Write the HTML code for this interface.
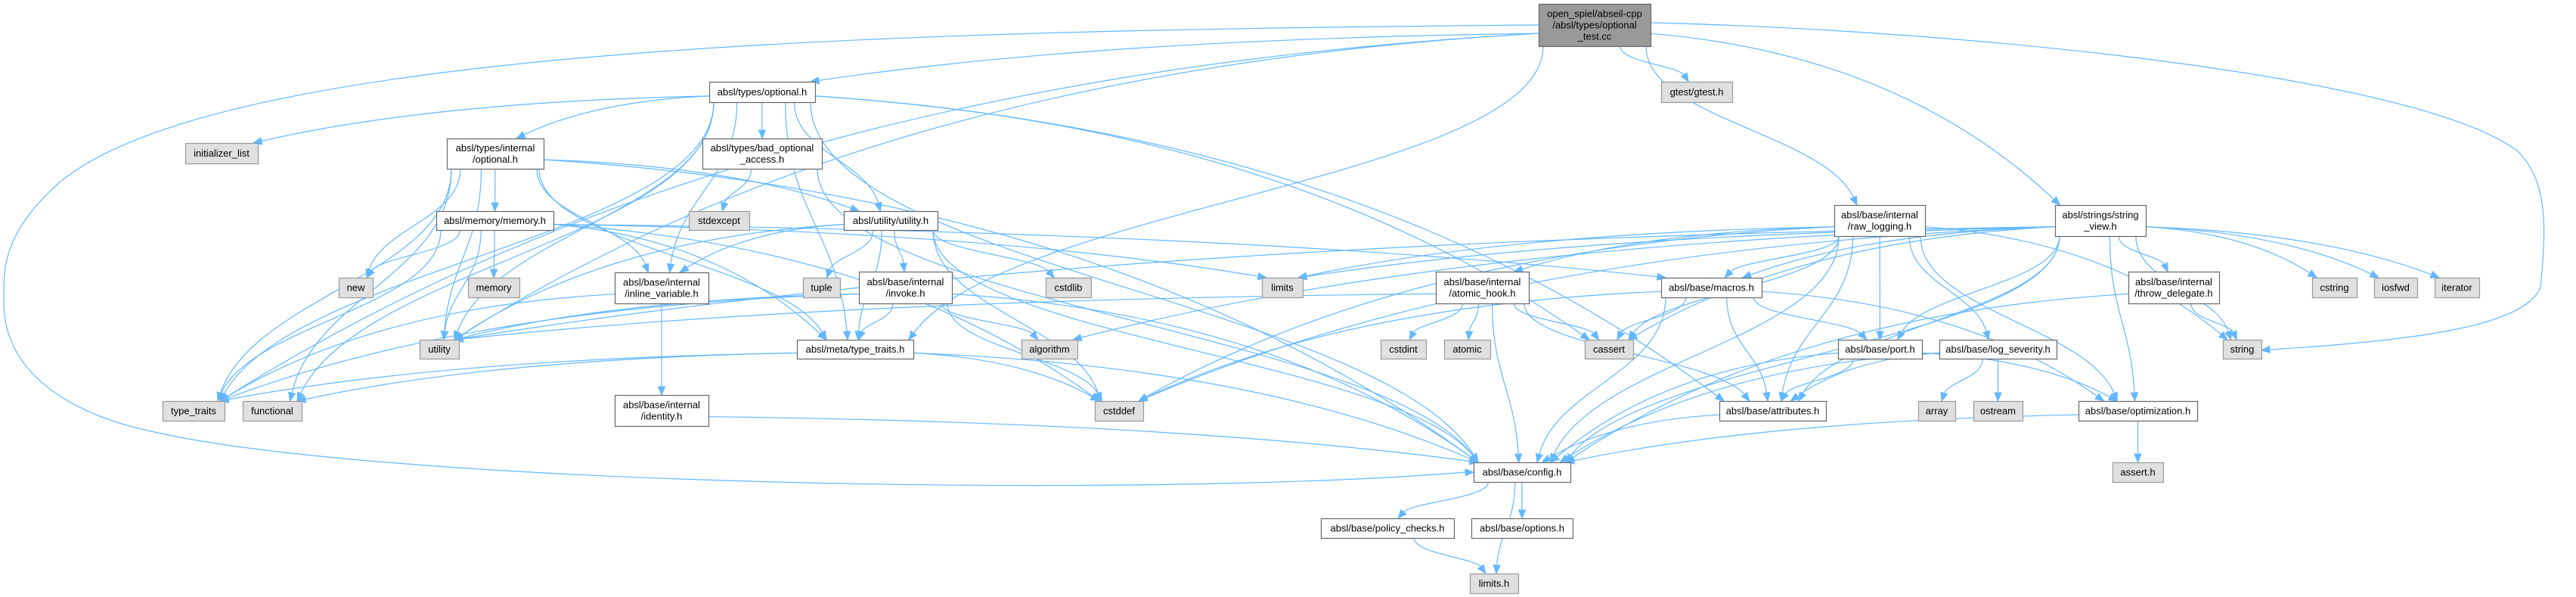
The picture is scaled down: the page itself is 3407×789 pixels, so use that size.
<!DOCTYPE html>
<html><head><meta charset="utf-8"><style>
html,body{margin:0;padding:0;background:#fff;}
svg{display:block;}
text{font-family:"Liberation Sans",Arial,sans-serif;font-size:13px;fill:#000;}
</style></head><body>
<svg id="g" xmlns="http://www.w3.org/2000/svg" width="3407" height="789" viewBox="0 0 3407 789">
<g id="edges" fill="none" stroke="#63b8ff" stroke-width="1.2"></g>
<g id="arrows" fill="#63b8ff" stroke="#63b8ff"></g>
<g id="nodes"></g>
</svg>
<script>
var N={
root:[2035,5,2183,61,"open_spiel/abseil-cpp|/absl/types/optional|_test.cc",2],
opt:[938,108,1078,135,"absl/types/optional.h",0],
gtest:[2197,108,2291,135,"gtest/gtest.h",1],
il:[245,189,341,216,"initializer_list",1],
iopt:[591,183,719,223,"absl/types/internal|/optional.h",0],
bad:[929,183,1087,223,"absl/types/bad_optional|_access.h",0],
uth:[1116,279,1240,304,"absl/utility/utility.h",0],
mem:[577,279,732,304,"absl/memory/memory.h",0],
stdexc:[911,279,991,304,"stdexcept",1],
raw:[2426,271,2546,312,"absl/base/internal|/raw_logging.h",0],
sv:[2718,271,2838,312,"absl/strings/string|_view.h",0],
nw:[448,367,493,393,"new",1],
memory:[619,367,687,393,"memory",1],
iv:[813,360,937,401,"absl/base/internal|/inline_variable.h",0],
tuple:[1062,367,1111,393,"tuple",1],
inv:[1136,359,1259,401,"absl/base/internal|/invoke.h",0],
cstdlib:[1383,367,1443,393,"cstdlib",1],
limits:[1669,367,1723,393,"limits",1],
ah:[1899,359,2022,401,"absl/base/internal|/atomic_hook.h",0],
mac:[2197,367,2330,393,"absl/base/macros.h",0],
td:[2815,359,2935,401,"absl/base/internal|/throw_delegate.h",0],
cstring:[3058,367,3117,393,"cstring",1],
iosfwd:[3140,367,3197,393,"iosfwd",1],
iterator:[3220,367,3279,393,"iterator",1],
util:[555,449,607,474,"utility",1],
mtt:[1054,449,1208,474,"absl/meta/type_traits.h",0],
algo:[1351,449,1425,474,"algorithm",1],
cstdint:[1826,449,1886,474,"cstdint",1],
atomic:[1910,449,1971,474,"atomic",1],
cassert:[2096,449,2160,474,"cassert",1],
port:[2431,449,2542,474,"absl/base/port.h",0],
ls:[2565,449,2720,474,"absl/base/log_severity.h",0],
str:[2940,449,2991,474,"string",1],
tt:[215,530,297,556,"type_traits",1],
func:[321,530,399,556,"functional",1],
ident:[813,522,937,563,"absl/base/internal|/identity.h",0],
cstddef:[1448,530,1512,556,"cstddef",1],
attr:[2274,530,2415,556,"absl/base/attributes.h",0],
array:[2537,530,2586,556,"array",1],
ostream:[2610,530,2675,556,"ostream",1],
optm:[2749,530,2906,556,"absl/base/optimization.h",0],
cfg:[1949,611,2077,637,"absl/base/config.h",0],
asserth:[2794,611,2861,637,"assert.h",1],
pol:[1747,685,1923,711,"absl/base/policy_checks.h",0],
opts:[1946,685,2080,711,"absl/base/options.h",0],
limh:[1944,758,2008,784,"limits.h",1]
};
var E={
root:["opt","gtest","raw","sv","tt","util","mtt"],
opt:["il","iopt","bad","uth","tt","util","func","iv","mtt","cfg","attr","cassert"],
iopt:["mem","nw","util","tt","func","iv","mtt","uth","cfg"],
mem:["nw","memory","util","tt","mtt","cstddef","limits","mac"],
bad:["stdexc","cfg"],
uth:["iv","tuple","inv","cstdlib","util","mtt","cfg","cstddef"],
iv:["ident","tt"],
ident:["cfg"],
inv:["algo","util","tt","mtt","cfg","cstddef"],
mtt:["tt","func","cstddef","cfg"],
raw:["ah","mac","port","ls","attr","cfg","optm","cassert","str","cstddef","limits"],
ah:["cstdint","atomic","cassert","attr","cfg","util"],
mac:["cassert","cstddef","attr","cfg","optm","port"],
port:["attr","cfg","optm"],
ls:["attr","array","ostream","cfg"],
optm:["asserth","cfg"],
attr:["cfg"],
sv:["td","cstring","iosfwd","iterator","str","limits","algo","cstddef","cassert","mac","port","attr","optm","cfg","util"],
td:["str","cfg"],
cfg:["pol","opts","limh"],
pol:["limh"]
};
var NS="http://www.w3.org/2000/svg";
function el(t,a,p){var e=document.createElementNS(NS,t);for(var k in a)e.setAttribute(k,a[k]);p.appendChild(e);return e;}
var ge=document.getElementById("edges"),ga=document.getElementById("arrows"),gn=document.getElementById("nodes");
function cl(v,a,b){return Math.max(a,Math.min(b,v));}
function arrow(x,y,ux,uy){var L=11,W=4.5;var bx=x-ux*L,by=y-uy*L;
 el("polygon",{points:x+","+y+" "+(bx-uy*W)+","+(by+ux*W)+" "+(bx+uy*W)+","+(by-ux*W)},ga);}
function edge(a,b){var s=N[a],t=N[b];var scx=(s[0]+s[2])/2,tcx=(t[0]+t[2])/2;
 var sx,sy,tx,ty,c1x,c1y,c2x,c2y,ux,uy;
 var hd=Math.abs(tcx-scx),vd=t[1]-s[3];
 if(vd>5){
  tx=cl(tcx+(scx-tcx)*0.08,t[0]+6,t[2]-6);ty=t[1];
  if(hd>2.5*vd+100){sx=tcx<scx?s[0]:s[2];sy=(s[1]+s[3])/2+ (s[3]-s[1])*0.2;
   c1x=sx+(tx-sx)*0.5;c1y=sy+(ty-sy)*0.1;c2x=tx+(sx-tx)*0.2;c2y=ty-(ty-sy)*0.45;}
  else{sx=cl(scx+(tcx-scx)*0.25,s[0]+6,s[2]-6);sy=s[3];
   var dy=(ty-sy)*0.45;c1x=sx;c1y=sy+dy;c2x=tx+(sx-tx)*0.15;c2y=ty-dy;}}
 else{
  sy=(s[1]+s[3])/2;sx=tcx<scx?s[0]:s[2];tx=tcx<scx?t[2]:t[0];ty=(t[1]+t[3])/2;
  c1x=sx+(tx-sx)*0.4;c1y=sy;c2x=tx-(tx-sx)*0.3;c2y=ty;}
 var dx=tx-c2x,dd=ty-c2y,l=Math.hypot(dx,dd)||1;ux=dx/l;uy=dd/l;
 var ex=tx-ux*10,ey=ty-uy*10;
 el("path",{d:"M"+sx+","+sy+" C"+c1x+","+c1y+" "+c2x+","+c2y+" "+ex+","+ey},ge);
 arrow(tx,ty,ux,uy);}
for(var a in E)E[a].forEach(function(b){edge(a,b);});
el("path",{d:"M2035,33 C1200,40 300,60 80,240 C0,310 5,360 5,400 C5,520 150,560 200,570 C500,640 1500,660 1938,624"},ge);
arrow(1949,624,0.995,-0.03);
el("path",{d:"M2183,30 C2600,40 3200,100 3330,200 C3370,240 3368,300 3360,380 C3340,430 3200,450 3003,462"},ge);
arrow(2991,463,-0.99,0.1);
for(var k in N){var n=N[k];var fill=n[5]==2?"#999999":(n[5]==1?"#e0e0e0":"#ffffff");var st=n[5]==1?"#999999":"#666666";
 el("rect",{x:n[0]+0.5,y:n[1]+0.5,width:n[2]-n[0],height:n[3]-n[1],fill:fill,stroke:st,"stroke-width":1.2},gn);
 var lines=n[4].split("|"),cx=(n[0]+n[2])/2,cy=(n[1]+n[3])/2,lh=15,y0=cy-(lines.length-1)*lh/2+4.5;
 lines.forEach(function(s,i){var t=el("text",{x:cx,y:y0+i*lh,"text-anchor":"middle"},gn);t.textContent=s;});}
</script>
</body></html>
